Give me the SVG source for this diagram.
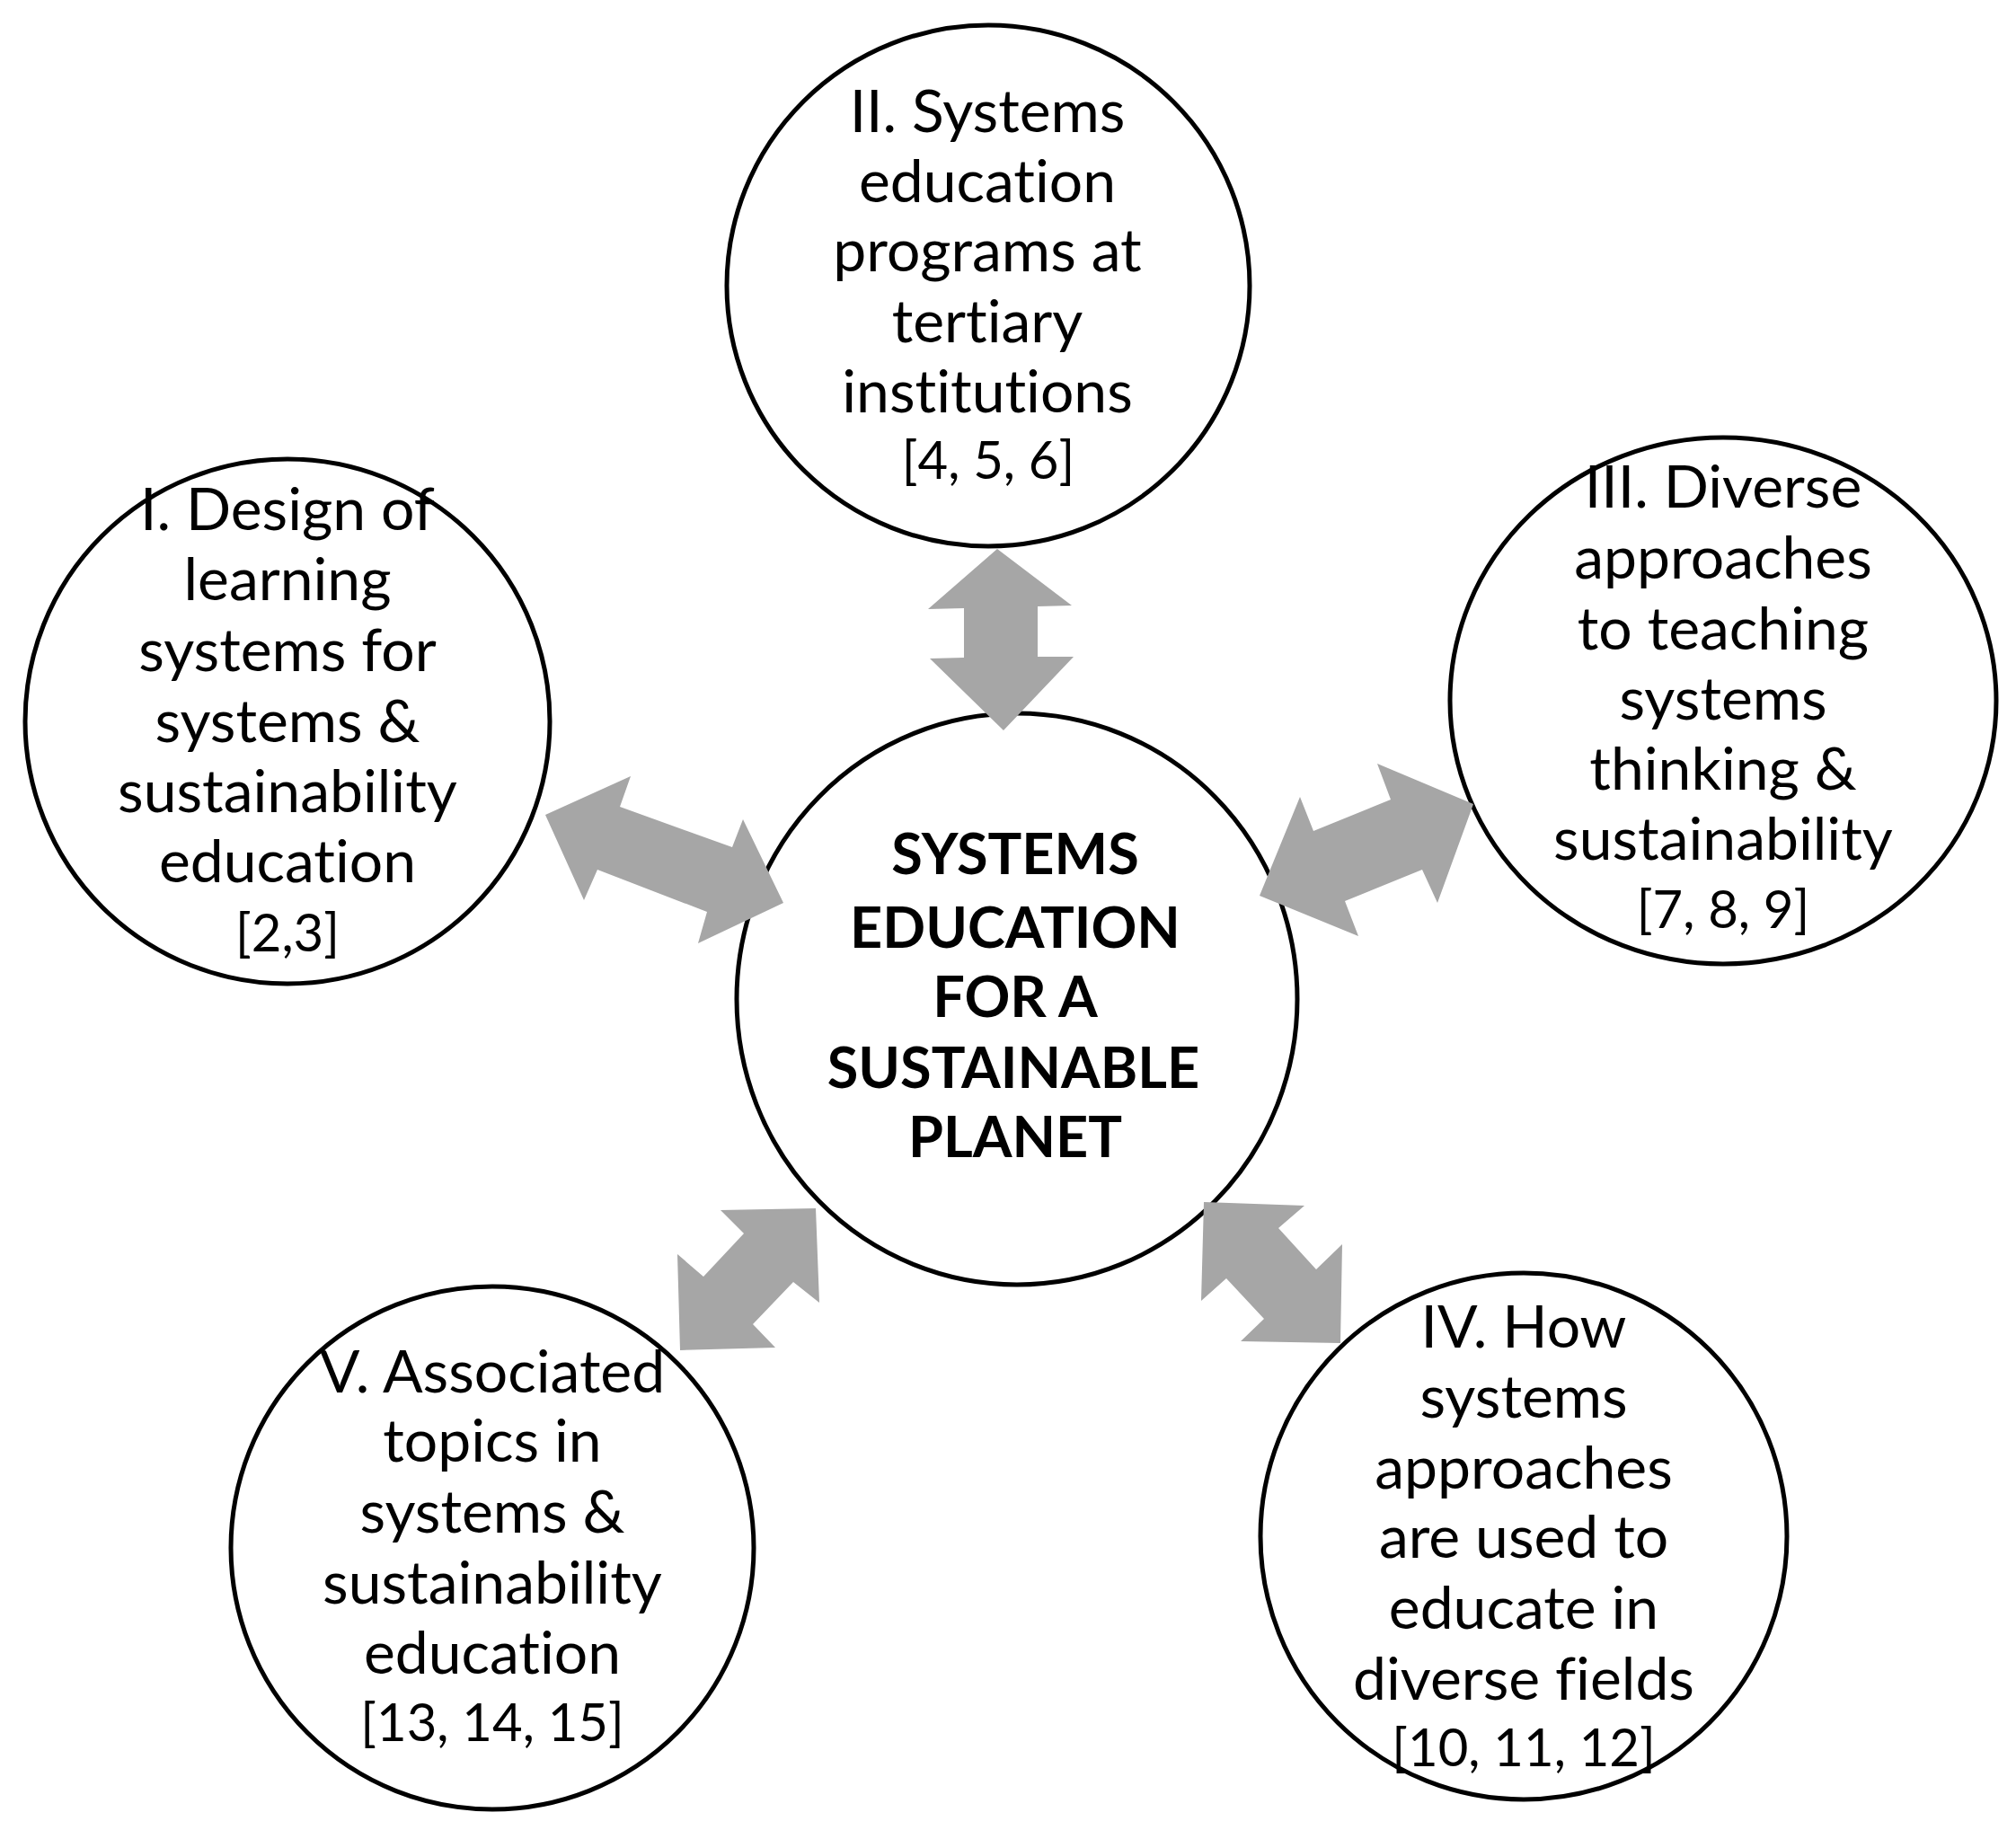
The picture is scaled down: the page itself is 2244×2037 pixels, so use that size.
<svg xmlns="http://www.w3.org/2000/svg" width="2244" height="2037" viewBox="0 0 2244 2037">
<style>
.node{fill:#fff;stroke:#000;stroke-width:5}
.t{font-family:Lato,"Open Sans","Liberation Sans",sans-serif;font-size:66px;fill:#000;text-anchor:middle;font-variant-ligatures:none;font-feature-settings:"liga" 0,"clig" 0}
.r{font-size:58px}
.b{font-weight:bold;font-size:63px}
.arrow{fill:#A6A6A6;stroke:none}
</style>
<rect width="2244" height="2037" fill="#fff"/>
<g id="node-center">
<ellipse class="node" cx="1132" cy="1112" rx="312" ry="318"/>
<text class="t b" x="1130" y="973">SYSTEMS</text>
<text class="t b" x="1130" y="1055">EDUCATION</text>
<text class="t b" x="1130" y="1132">FOR A</text>
<text class="t b" x="1128" y="1211">SUSTAINABLE</text>
<text class="t b" x="1130" y="1288">PLANET</text>
</g>
<g id="node-1">
<ellipse class="node" cx="320" cy="803" rx="292" ry="292"/>
<text class="t" x="320" y="590">I. Design of</text>
<text class="t" x="320" y="668">learning</text>
<text class="t" x="320" y="747">systems for</text>
<text class="t" x="320" y="826">systems &amp;</text>
<text class="t" x="320" y="904">sustainability</text>
<text class="t" x="320" y="982">education</text>
<text class="t r" x="320" y="1059">[2,3]</text>
</g>
<g id="node-2">
<ellipse class="node" cx="1100" cy="318" rx="291" ry="290"/>
<text class="t" x="1099" y="147">II. Systems</text>
<text class="t" x="1099" y="225">education</text>
<text class="t" x="1099" y="302">programs at</text>
<text class="t" x="1099" y="381">tertiary</text>
<text class="t" x="1099" y="459">institutions</text>
<text class="t r" x="1100" y="533">[4, 5, 6]</text>
</g>
<g id="node-3">
<ellipse class="node" cx="1918" cy="780" rx="304" ry="293"/>
<text class="t" x="1918" y="565">III. Diverse</text>
<text class="t" x="1918" y="644">approaches</text>
<text class="t" x="1918" y="723">to teaching</text>
<text class="t" x="1918" y="801">systems</text>
<text class="t" x="1918" y="879">thinking &amp;</text>
<text class="t" x="1918" y="957">sustainability</text>
<text class="t r" x="1918" y="1033">[7, 8, 9]</text>
</g>
<g id="node-4">
<ellipse class="node" cx="1696" cy="1710" rx="293" ry="293"/>
<text class="t" x="1696" y="1500">IV. How</text>
<text class="t" x="1696" y="1578">systems</text>
<text class="t" x="1696" y="1657">approaches</text>
<text class="t" x="1696" y="1734">are used to</text>
<text class="t" x="1696" y="1813">educate in</text>
<text class="t" x="1696" y="1892">diverse fields</text>
<text class="t r" x="1696" y="1966">[10, 11, 12]</text>
</g>
<g id="node-5">
<ellipse class="node" cx="548" cy="1723" rx="291" ry="291"/>
<text class="t" x="548" y="1550">V. Associated</text>
<text class="t" x="548" y="1627">topics in</text>
<text class="t" x="548" y="1706">systems &amp;</text>
<text class="t" x="548" y="1785">sustainability</text>
<text class="t" x="548" y="1863">education</text>
<text class="t r" x="548" y="1938">[13, 14, 15]</text>
</g>
<g id="connectors">
<polygon class="arrow" points="607,907 702,864 690,898 815,943 827,912 872,1005 777,1050 787,1015 665,968 650,1002"/>
<polygon class="arrow" points="1402,997 1447,887 1462,925 1548,890 1533,850 1640,895 1600,1005 1583,968 1497,1003 1512,1042"/>
<polygon class="arrow" points="1110,611 1193,674 1155,675 1155,731 1195,731 1117,813 1035,733 1073,732 1073,677 1033,678"/>
<polygon class="arrow" points="908,1345 912,1450 883,1427 838,1474 863,1500 757,1503 754,1396 783,1421 828,1373 802,1347"/>
<polygon class="arrow" points="1340,1338 1452,1342 1423,1367 1465,1413 1494,1385 1492,1495 1381,1493 1407,1468 1365,1423 1337,1448"/>
</g>
</svg>
